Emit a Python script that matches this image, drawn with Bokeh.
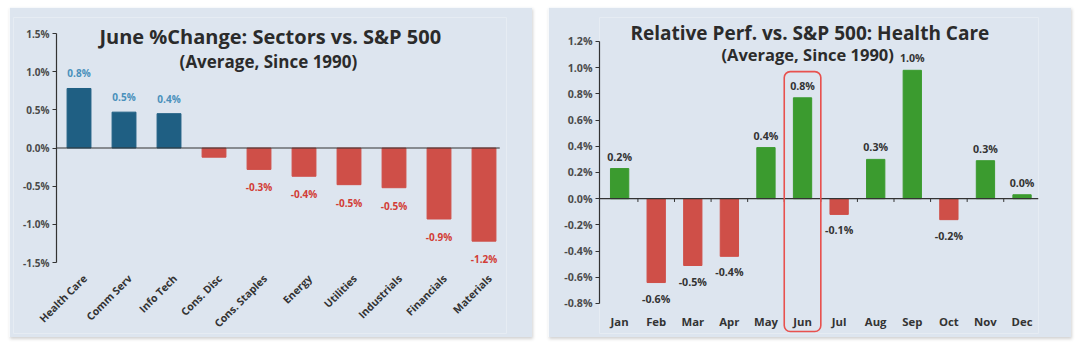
from bokeh.plotting import figure
from bokeh.models import (ColumnDataSource, LabelSet, Label, FixedTicker, LinearAxis,
                          Range1d, BoxAnnotation, PrintfTickFormatter)
from bokeh.core.properties import value
from bokeh.layouts import row
from bokeh.embed import file_html
from bokeh.resources import INLINE

# ---------------- data ----------------
sectors = ["Health Care", "Comm Serv", "Info Tech", "Cons. Disc", "Cons. Staples",
           "Energy", "Utilities", "Industrials", "Financials", "Materials"]
sector_vals = [0.78, 0.47, 0.45, -0.12, -0.28, -0.37, -0.48, -0.52, -0.93, -1.22]
sector_labels = ["0.8%", "0.5%", "0.4%", "", "-0.3%", "-0.4%", "-0.5%", "-0.5%", "-0.9%", "-1.2%"]
sector_yticks = [-1.5, -1.0, -0.5, 0.0, 0.5, 1.0, 1.5]

months = ["Jan", "Feb", "Mar", "Apr", "May", "Jun", "Jul", "Aug", "Sep", "Oct", "Nov", "Dec"]
month_vals = [0.23, -0.64, -0.51, -0.44, 0.39, 0.77, -0.12, 0.30, 0.98, -0.16, 0.29, 0.03]
month_labels = ["0.2%", "-0.6%", "-0.5%", "-0.4%", "0.4%", "0.8%", "-0.1%", "0.3%", "1.0%", "-0.2%", "0.3%", "0.0%"]
month_yticks = [-0.8, -0.6, -0.4, -0.2, 0.0, 0.2, 0.4, 0.6, 0.8, 1.0, 1.2]
highlight_month = "Jun"

# ---------------- styling ----------------
BG = "#dde5ef"
BLUE = "#1f5f83"
BLUE_LBL = "#4a90bb"
RED = "#cf4f48"
RED_LBL = "#d23c36"
GREEN = "#3b9b2f"
AXIS = "#333333"
FONT = "Open Sans"


def base_fig(width, height, xr, yr, bl, bb, br, bt):
    p = figure(width=width, height=height, x_range=xr, y_range=yr,
               output_backend="svg", toolbar_location=None,
               min_border_left=bl, min_border_bottom=bb, min_border_right=br, min_border_top=bt)
    p.background_fill_color = BG
    p.border_fill_color = BG
    p.outline_line_color = None
    p.grid.grid_line_color = None
    p.xaxis.visible = False
    p.styles = {"box-shadow": "1px 2px 3px rgba(0,0,0,0.18)"}
    return p


def style_yaxis(ya, ticks, bounds, size):
    ya.ticker = FixedTicker(ticks=ticks)
    ya.formatter = PrintfTickFormatter(format="%.1f%%")
    ya.bounds = bounds
    ya.axis_line_color = AXIS
    ya.axis_line_width = 1.2
    ya.major_tick_line_color = AXIS
    ya.major_tick_out = 4
    ya.major_tick_in = 0
    ya.minor_tick_line_color = None
    ya.major_label_text_font = FONT
    ya.major_label_text_font_style = "bold"
    ya.major_label_text_font_size = size
    ya.major_label_text_color = "#4a4a4a"
    ya.major_label_standoff = 3


def title_label(p, x, y, text, size):
    p.add_layout(Label(x=x, y=y, text=text, text_align="center", text_baseline="middle",
                       text_font=FONT, text_font_style="bold", text_font_size=size,
                       text_color="#2b2b2b"))


# ================= LEFT CHART =================
n1 = len(sectors)
x1 = list(range(n1))
src1 = ColumnDataSource(dict(
    x=x1, top=sector_vals, lab=sector_labels, name=sectors, base=[-1.5] * n1,
    color=[BLUE if v >= 0 else RED for v in sector_vals],
    lcolor=[BLUE_LBL if v >= 0 else RED_LBL for v in sector_vals],
    off=[15 if v >= 0 else -18 for v in sector_vals],
))
p1 = base_fig(523, 330, Range1d(-1.456, n1 - 0.5), Range1d(-2.43, 1.71), 4, 4, 26, 10)
p1.yaxis.visible = False
p1.vbar(x="x", top="top", bottom=0, width=0.53, color="color", source=src1)

ya1 = LinearAxis(fixed_location=-0.5)
style_yaxis(ya1, sector_yticks, (-1.5, 1.5), "7.5pt")
p1.add_layout(ya1, "left")

p1.segment(x0=[-0.5], y0=[0], x1=[n1 - 0.65], y1=[0], line_color=AXIS, line_width=1.2)

# rotated category labels
p1.add_layout(LabelSet(x="x", y="base", text="name", angle=0.785, x_offset=6, y_offset=-14,
                       text_align="right", text_baseline="middle", text_font=value(FONT),
                       text_font_style="bold", text_font_size="10.5px", text_color="#333333",
                       source=src1))

p1.add_layout(LabelSet(x="x", y="top", text="lab", y_offset="off", text_color="lcolor",
                       text_align="center", text_baseline="middle", text_font=value(FONT),
                       text_font_style="bold", text_font_size="7.5pt", source=src1))

title_label(p1, 4.25, 1.467, "June %Change: Sectors vs. S&P 500", "20px")
title_label(p1, 4.21, 1.127, "(Average, Since 1990)", "17px")

# ================= RIGHT CHART =================
n2 = len(months)
x2 = list(range(n2))
src2 = ColumnDataSource(dict(
    x=x2, top=month_vals, lab=month_labels,
    color=[GREEN if v >= 0 else RED for v in month_vals],
    off=[12 if v >= 0 else -16 for v in month_vals],
))
p2 = base_fig(523, 330, Range1d(-0.55, n2 - 0.55), Range1d(-1.029, 1.383), 51, 4, 33, 10)
p2.vbar(x="x", top="top", bottom=0, width=0.5, color="color", source=src2)
style_yaxis(p2.yaxis[0], month_yticks, (-0.8, 1.2), "8pt")

# zero line with small separator ticks between months
p2.segment(x0=[-0.55], y0=[0], x1=[n2 - 0.55], y1=[0], line_color=AXIS, line_width=1.2)
bounds2 = [i + 0.5 for i in x2]
p2.segment(x0=bounds2, y0=[0] * n2, x1=bounds2, y1=[-0.025] * n2, line_color=AXIS, line_width=1)

lab2 = LinearAxis(fixed_location=-0.8, ticker=FixedTicker(ticks=x2),
                  major_label_overrides={i: s for i, s in enumerate(months)},
                  axis_line_color=None, major_tick_line_color=None, minor_tick_line_color=None,
                  major_label_standoff=5, major_label_text_font=FONT,
                  major_label_text_font_style="bold", major_label_text_font_size="8.5pt",
                  major_label_text_color="#333333")
p2.add_layout(lab2, "below")

p2.add_layout(LabelSet(x="x", y="top", text="lab", y_offset="off", text_color="#333333",
                       text_align="center", text_baseline="middle", text_font=value(FONT),
                       text_font_style="bold", text_font_size="8pt", source=src2))

hi = months.index(highlight_month)
p2.add_layout(BoxAnnotation(left=hi - 0.5, right=hi + 0.5, top=0.97, bottom=-1.014,
                            fill_alpha=0, line_color="#e8514e", line_alpha=1.0,
                            line_width=1.6, border_radius=6))

title_label(p2, 5.2, 1.267, "Relative Perf. vs. S&P 500: Health Care", "19px")
title_label(p2, 5.14, 1.099, "(Average, Since 1990)", "16.5px")

layout = row(p1, p2, spacing=16, margin=(7, 0, 0, 9))
open("out.html", "w").write(file_html(layout, INLINE))
